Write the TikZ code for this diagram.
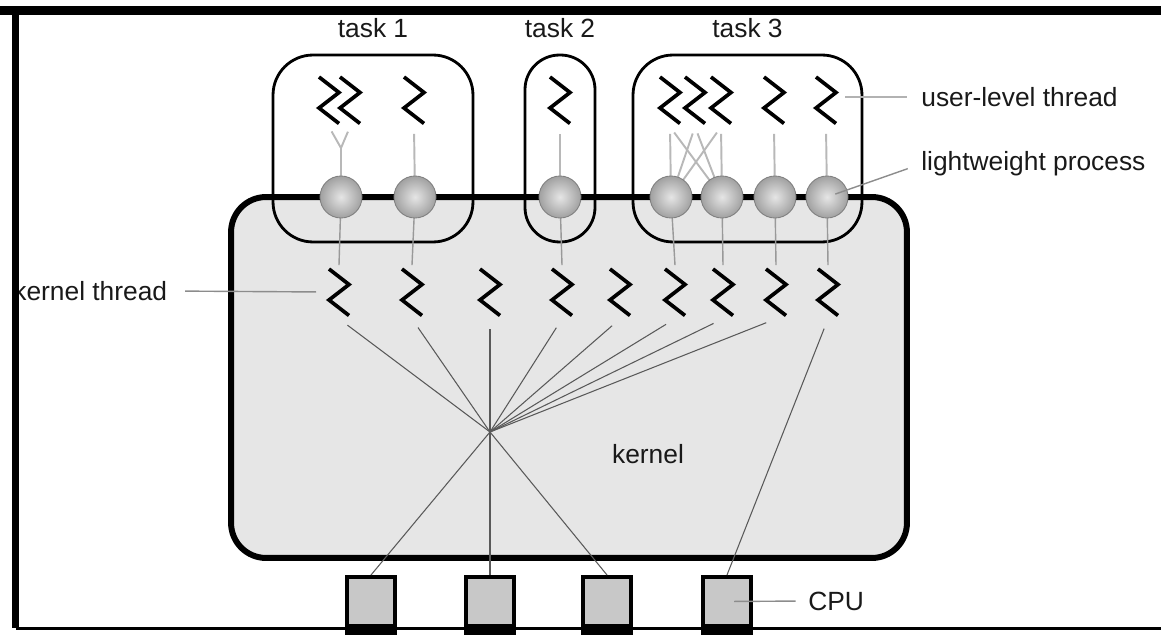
\documentclass[tikz,border=0pt]{standalone}
\usepackage{fontspec}
\setmainfont{Liberation Sans}
\definecolor{kfill}{HTML}{E6E6E6}
\definecolor{cpufill}{HTML}{C8C8C8}
\definecolor{lead}{HTML}{8C8C8C}
\begin{document}
\begin{tikzpicture}[x=0.02cm,y=-0.02cm,
  lab/.style={font=\fontsize{15pt}{17pt}\selectfont, inner sep=0pt, text=black!90},
  zig/.style={minimum width=0.62cm, minimum height=1.06cm, inner sep=0pt,
    path picture={\draw[line width=2.1pt, line join=miter]
      ([xshift=-0.2cm,yshift=-0.07cm]path picture bounding box.north)
      -- ++(0.4cm,-0.31cm) -- ++(-0.4cm,-0.31cm) -- ++(0.4cm,-0.31cm);}},
  lwp/.style={circle, minimum size=0.84cm, inner sep=0pt, draw=black!50,
    line width=0.5pt, inner color=black!10, outer color=black!37},
  cpu/.style={draw, line width=2.3pt, fill=cpufill, minimum width=0.96cm,
    minimum height=0.98cm, inner sep=0pt},
  taskbox/.style={draw, line width=1.6pt, inner sep=0pt, minimum height=3.74cm},
  kbox/.style={draw, line width=3.4pt, fill=kfill, rounded corners=0.7cm,
    minimum width=13.52cm, minimum height=7.22cm, inner sep=0pt},
  uline/.style={draw=black!28, line width=1.1pt},
  lline/.style={draw=black!40, line width=0.8pt},
  kline/.style={draw=black!65, line width=0.6pt},
  leader/.style={draw=lead, line width=0.8pt},
  frameline/.style={line width=4.8pt}
]
\useasboundingbox (0,0) rectangle (1161,635);
% labels that lie under the frame
\node[lab, anchor=west] (klabel) at (13,291) {kernel thread};
% frame
\draw[frameline] (0,10.5) -- (1161,10.5);
\draw[line width=4pt] (15.5,8) -- (15.5,628);
\draw[line width=1.3pt] (15.5,628.5) -- (1161,628.5);
% kernel
\node[kbox] (kern) at (569,377.5) {};
\node[lab] (klab) at (648,454) {kernel};
% tasks
\node[taskbox, minimum width=4cm, rounded corners=0.8cm] (t1) at (373,148.5) {};
\node[taskbox, minimum width=1.4cm, rounded corners=0.69cm] (t2) at (560,148.5) {};
\node[taskbox, minimum width=4.58cm, rounded corners=0.8cm] (t3) at (747.5,148.5) {};
\node[lab] (t1l) at (373,28) {task 1};
\node[lab] (t2l) at (560,28) {task 2};
\node[lab] (t3l) at (747.5,28) {task 3};
% user-level threads
\node[zig] (u1) at (329,100) {};
\node[zig] (u2) at (350,100) {};
\node[zig] (u3) at (414,100) {};
\node[zig] (u4) at (560,100) {};
\node[zig] (u5) at (670,100) {};
\node[zig] (u6) at (695,100) {};
\node[zig] (u7) at (721,100) {};
\node[zig] (u8) at (774,100) {};
\node[zig] (u9) at (826,100) {};
% kernel threads
\node[zig] (k1) at (339,292) {};
\node[zig] (k2) at (412,292) {};
\node[zig] (k3) at (490,292) {};
\node[zig] (k4) at (562,292) {};
\node[zig] (k5) at (620,292) {};
\node[zig] (k6) at (675,292) {};
\node[zig] (k7) at (723,292) {};
\node[zig] (k8) at (776,292) {};
\node[zig] (k9) at (828,292) {};
% LWP positions
\coordinate (p1) at (341,197);
\coordinate (p2) at (415,197);
\coordinate (p3) at (560,197);
\coordinate (p4) at (671,197);
\coordinate (p5) at (722,197);
\coordinate (p6) at (775,197);
\coordinate (p7) at (827,197);
\coordinate (yj) at (341,148);
\coordinate (hub) at (490,432);
% CPUs
\node[cpu] (c1) at (371,601.5) {};
\node[cpu] (c2) at (490,601.5) {};
\node[cpu] (c3) at (607,601.5) {};
\node[cpu] (c4) at (727,601.5) {};
\foreach \c in {c1,c2,c3,c4}
  \fill ([yshift=0.02cm]\c.south west) rectangle ([yshift=-0.14cm]\c.south east);
% user thread -> LWP lines
\draw[uline, shorten <=3pt] (u1.south) -- (yj);
\draw[uline, shorten <=3pt] (u2.south) -- (yj);
\draw[uline] (yj) -- (p1);
\draw[uline, shorten <=4pt] (u3.south) -- (p2);
\draw[uline, shorten <=4pt] (u4.south) -- (p3);
\foreach \u in {u5,u6,u7}{
  \draw[uline, shorten <=4pt] (\u.south) -- (p4);
  \draw[uline, shorten <=4pt] (\u.south) -- (p5);
}
\draw[uline, shorten <=4pt] (u8.south) -- (p6);
\draw[uline, shorten <=4pt] (u9.south) -- (p7);
% LWP -> kernel thread lines
\draw[lline] (p1) -- (k1.north);
\draw[lline] (p2) -- (k2.north);
\draw[lline] (p3) -- (k4.north);
\draw[lline] (p4) -- (k6.north);
\draw[lline] (p5) -- (k7.north);
\draw[lline] (p6) -- (k8.north);
\draw[lline] (p7) -- (k9.north);
% LWP circles
\node[lwp] (l1) at (p1) {};
\node[lwp] (l2) at (p2) {};
\node[lwp] (l3) at (p3) {};
\node[lwp] (l4) at (p4) {};
\node[lwp] (l5) at (p5) {};
\node[lwp] (l6) at (p6) {};
\node[lwp] (l7) at (p7) {};
% kernel thread -> hub -> CPU
\foreach \k in {k1,k2,k4,k5,k6,k7,k8}
  \draw[kline, shorten <=6pt] (\k.south) -- (hub);
\draw[kline, shorten <=6pt] (k3.south) -- (c2.north);
\draw[kline] (hub) -- (c1.north);
\draw[kline] (hub) -- (c3.north);
\draw[kline, shorten <=6pt] (k9.south) -- (c4.north);
% side labels
\node[lab, anchor=west] (ulabel) at (921,97) {user-level thread};
\node[lab, anchor=west] (llabel) at (921,164) {lightweight process};
\node[lab, anchor=west] (cpulabel) at (808,601) {CPU};
\draw[draw=black!30, line width=1.4pt, shorten <=2pt, shorten >=8pt] (u9.east |- ulabel.west) -- (ulabel.west);
\draw[leader, shorten <=5pt, shorten >=8pt] (l7.center) -- (llabel.west);
\draw[leader, shorten <=10pt, shorten >=4pt] (klabel.east) -- (k1.west);
\draw[leader, shorten <=4pt, shorten >=7pt] (c4.center) -- (cpulabel.west);
\end{tikzpicture}
\end{document}
